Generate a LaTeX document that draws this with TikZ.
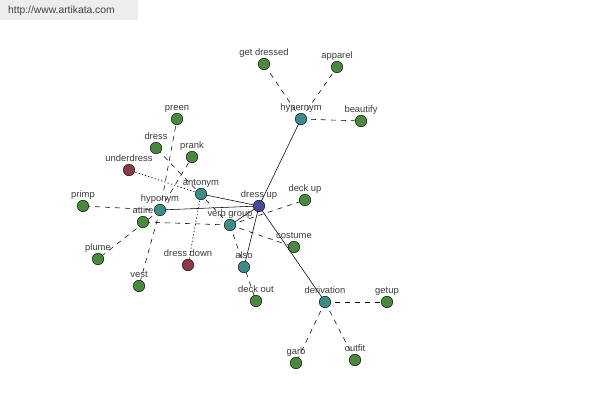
\documentclass[tikz,border=0pt]{standalone}
\usepackage{fontspec}
\setmainfont{Liberation Sans}
\begin{document}
\begin{tikzpicture}[x=1pt,y=-1pt,
  vtx/.style={circle,draw=black,line width=0.45pt,minimum size=11.5pt,inner sep=0pt},
  core/.style={vtx,fill=corecol},
  rel/.style={vtx,fill=relcol},
  word/.style={vtx,fill=wordcol},
  anto/.style={vtx,fill=antcol},
  lbl/.style={text=lblcol,font=\fontsize{9.4}{10}\selectfont,inner sep=0pt},
  solidl/.style={line width=0.55pt},
  dashl/.style={line width=0.55pt,dash pattern=on 5pt off 5pt},
  dotl/.style={line width=0.65pt,dash pattern=on 1.2pt off 2.2pt}]
\definecolor{corecol}{HTML}{4A4A9C}
\definecolor{relcol}{HTML}{3C8C8C}
\definecolor{wordcol}{HTML}{4A8A3E}
\definecolor{antcol}{HTML}{8C3A44}
\definecolor{lblcol}{HTML}{3A3A3A}
\useasboundingbox (0,0) rectangle (600,400);
\fill[white] (0,0) rectangle (600,400);
\fill[black!7] (0,0) rectangle (138,20);
\node[anchor=west,text=black!75,font=\fontsize{10.3}{11}\selectfont,inner sep=0pt] (url) at (8,11) {http://www.artikata.com};

% coordinates of nodes
\coordinate (pdressup) at (259,206);
\coordinate (phypernym) at (301,119);
\coordinate (pgetdressed) at (264,64);
\coordinate (papparel) at (337,67);
\coordinate (pbeautify) at (361,121);
\coordinate (pantonym) at (201,194);
\coordinate (phyponym) at (160,210);
\coordinate (pverbgroup) at (230,225);
\coordinate (palso) at (244,267);
\coordinate (pderivation) at (325,302);
\coordinate (pdeckup) at (305,200);
\coordinate (pcostume) at (294,247);
\coordinate (pdeckout) at (256,301);
\coordinate (pgetup) at (387,302);
\coordinate (pgarb) at (296,363);
\coordinate (poutfit) at (355,360);
\coordinate (ppreen) at (177,119);
\coordinate (pdress) at (156,148);
\coordinate (pprank) at (192,157);
\coordinate (punderdress) at (129,170);
\coordinate (pprimp) at (83,206);
\coordinate (pattire) at (143,222);
\coordinate (pplume) at (98,259);
\coordinate (pvest) at (139,286);
\coordinate (pdressdown) at (188,265);

% edges
\draw[solidl] (pdressup) -- (phypernym);
\draw[solidl] (pdressup) -- (pantonym);
\draw[solidl] (pdressup) -- (phyponym);
\draw[solidl] (pdressup) -- (pverbgroup);
\draw[solidl] (pdressup) -- (palso);
\draw[solidl] (pdressup) -- (pderivation);
\draw[dashl] (phypernym) -- (pgetdressed);
\draw[dashl] (phypernym) -- (papparel);
\draw[dashl] (phypernym) -- (pbeautify);
\draw[dashl] (pderivation) -- (pgetup);
\draw[dashl] (pderivation) -- (pgarb);
\draw[dashl] (pderivation) -- (poutfit);
\draw[dotl] (pantonym) -- (punderdress);
\draw[dotl] (pantonym) -- (pdressdown);
\draw[dashl] (phyponym) -- (ppreen);
\draw[dashl] (phyponym) -- (pprank);
\draw[dashl] (phyponym) -- (pprimp);
\draw[dashl] (phyponym) -- (pplume);
\draw[dashl] (phyponym) -- (pvest);
\draw[dashl] (pverbgroup) -- (pdress);
\draw[dashl] (pverbgroup) -- (pattire);
\draw[dashl] (pverbgroup) -- (pdeckup);
\draw[dashl] (pverbgroup) -- (pcostume);
\draw[dashl] (pverbgroup) -- (pdeckout);

% nodes
\node[core] (dressup) at (pdressup) {};
\node[rel] (hypernym) at (phypernym) {};
\node[word] (getdressed) at (pgetdressed) {};
\node[word] (apparel) at (papparel) {};
\node[word] (beautify) at (pbeautify) {};
\node[rel] (antonym) at (pantonym) {};
\node[rel] (hyponym) at (phyponym) {};
\node[rel] (verbgroup) at (pverbgroup) {};
\node[rel] (also) at (palso) {};
\node[rel] (derivation) at (pderivation) {};
\node[word] (deckup) at (pdeckup) {};
\node[word] (costume) at (pcostume) {};
\node[word] (deckout) at (pdeckout) {};
\node[word] (getup) at (pgetup) {};
\node[word] (garb) at (pgarb) {};
\node[word] (outfit) at (poutfit) {};
\node[word] (preen) at (ppreen) {};
\node[word] (dress) at (pdress) {};
\node[word] (prank) at (pprank) {};
\node[anto] (underdress) at (punderdress) {};
\node[word] (primp) at (pprimp) {};
\node[word] (attire) at (pattire) {};
\node[word] (plume) at (pplume) {};
\node[word] (vest) at (pvest) {};
\node[anto] (dressdown) at (pdressdown) {};

% labels
\foreach \n/\t in {dressup/dress up, hypernym/hypernym, getdressed/get dressed,
  apparel/apparel, beautify/beautify, antonym/antonym, hyponym/hyponym,
  verbgroup/verb group, also/also, derivation/derivation, deckup/deck up,
  costume/costume, deckout/deck out, getup/getup, garb/garb, outfit/outfit,
  preen/preen, dress/dress, prank/prank, underdress/underdress, primp/primp,
  attire/attire, plume/plume, vest/vest, dressdown/dress down}
  \node[lbl,anchor=base] (l\n) at ([yshift=8.5pt]\n.center) {\t};
\end{tikzpicture}
\end{document}
